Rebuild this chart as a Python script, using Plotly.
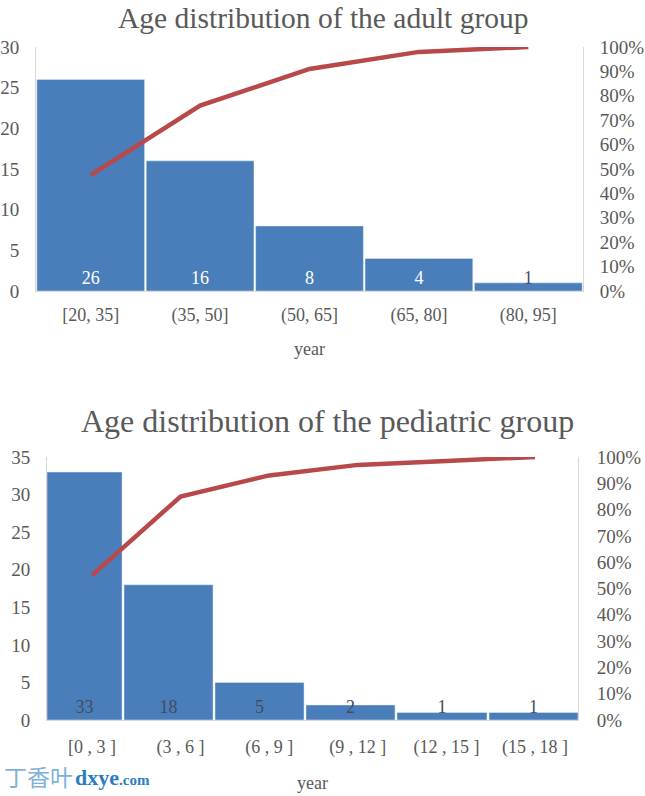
import plotly.graph_objects as go

W = 645
H = 796

adult_bins = ['[20, 35]', '(35, 50]', '(50, 65]', '(65, 80]', '(80, 95]']
adult_counts = [26, 16, 8, 4, 1]
adult_cum = [0.475, 0.76, 0.91, 0.98, 1.0]

ped_bins = ['[0 , 3 ]', '(3 , 6 ]', '(6 , 9 ]', '(9 , 12 ]', '(12 , 15 ]', '(15 , 18 ]']
ped_counts = [33, 18, 5, 2, 1, 1]
ped_cum = [0.55, 0.85, 0.93, 0.97, 0.985, 1.0]

# the lower chart has its bars drawn off the category centres in the original
ped_offset = [-0.508, -0.639, -0.612, -0.585, -0.558, -0.519]
ped_width = [0.847, 1.005, 1.005, 1.005, 1.016, 1.004]

pct_ticks = [i / 10 for i in range(11)]

BLUE = '#4a7ebb'
RED = '#b8494a'
GREY = '#595959'
AXIS = '#d9d9d9'
DARK = '#424c5c'
SERIF = 'Liberation Serif'


def px_x(x):
    return x / W


def px_y(y):
    return 1 - y / H


fig = go.Figure()

# upper chart
fig.add_trace(go.Bar(x=adult_bins, y=adult_counts, text=adult_counts, marker_color=BLUE,
                     textposition='inside', insidetextanchor='start', constraintext='none',
                     textangle=0, textfont=dict(size=18, family=SERIF,
                                                color=['white', 'white', 'white', 'white', DARK]),
                     xaxis='x', yaxis='y'))
fig.add_trace(go.Scatter(x=adult_bins, y=adult_cum, mode='lines', line=dict(color=RED, width=4.5),
                         xaxis='x', yaxis='y2'))

# lower chart
fig.add_trace(go.Bar(x=ped_bins, y=ped_counts, text=ped_counts, marker_color=BLUE,
                     offset=ped_offset, width=ped_width,
                     textposition='inside', insidetextanchor='start', constraintext='none',
                     textangle=0, textfont=dict(size=18, family=SERIF, color=DARK),
                     xaxis='x3', yaxis='y3'))
fig.add_trace(go.Scatter(x=ped_bins, y=ped_cum, mode='lines', line=dict(color=RED, width=4.5),
                         xaxis='x3', yaxis='y4'))

fig.update_layout(
    width=W, height=H, margin=dict(l=0, r=0, t=0, b=0), showlegend=False,
    paper_bgcolor='white', plot_bgcolor='white', bargap=0.015,
    font=dict(family=SERIF, size=19, color=GREY),
    xaxis=dict(domain=[px_x(36), px_x(583)], anchor='y', showgrid=False, linecolor=AXIS,
               ticks='', ticklabelstandoff=7, range=[-0.5, 4.5], automargin=False,
               tickfont=dict(size=18),
               title=dict(text='year', standoff=17, font=dict(size=18))),
    yaxis=dict(domain=[px_y(291), px_y(47)], anchor='x', range=[0, 30], dtick=5, showgrid=False,
               zeroline=False, showline=True, linecolor=AXIS, ticks='', ticklabelstandoff=12,
               automargin=False),
    yaxis2=dict(domain=[px_y(291), px_y(47)], anchor='x', overlaying='y', side='right',
                range=[0, 1], tickvals=pct_ticks, tickformat='.0%', showgrid=False, zeroline=False,
                showline=True, linecolor=AXIS, ticks='', ticklabelstandoff=12, automargin=False),
    xaxis3=dict(domain=[px_x(47), px_x(578)], anchor='y3', showgrid=False, linecolor=AXIS,
                ticks='', ticklabelstandoff=10, range=[-0.508, 5.485], automargin=False,
                tickfont=dict(size=18),
                title=dict(text='year', standoff=19, font=dict(size=18))),
    yaxis3=dict(domain=[px_y(720), px_y(457)], anchor='x3', range=[0, 35], dtick=5, showgrid=False,
                zeroline=False, showline=True, linecolor=AXIS, ticks='', ticklabelstandoff=12,
                automargin=False),
    yaxis4=dict(domain=[px_y(720), px_y(457)], anchor='x3', overlaying='y3', side='right',
                range=[0, 1], tickvals=pct_ticks, tickformat='.0%', showgrid=False, zeroline=False,
                showline=True, linecolor=AXIS, ticks='', ticklabelstandoff=14, automargin=False),
)

fig.add_annotation(text='Age distribution of the adult group', x=px_x(323), y=px_y(18),
                   xref='paper', yref='paper', xanchor='center', yanchor='middle', showarrow=False,
                   font=dict(size=29.5, color=GREY))
fig.add_annotation(text='Age distribution of the pediatric group', x=px_x(327), y=px_y(421),
                   xref='paper', yref='paper', xanchor='center', yanchor='middle', showarrow=False,
                   font=dict(size=32, color=GREY))

# watermark
fig.add_annotation(text='丁香叶', x=px_x(2), y=px_y(776), xref='paper', yref='paper', xanchor='left',
                   yanchor='middle', showarrow=False,
                   font=dict(size=23, family='Noto Sans CJK SC', color='#7fb2d9'))
fig.add_annotation(text='<b>dxye<span style="font-size:15px">.com</span></b>', x=px_x(73), y=px_y(777),
                   xref='paper', yref='paper', xanchor='left', yanchor='middle', showarrow=False,
                   font=dict(size=22, family=SERIF, color='#2b7cc0'))

# page margin would shift the whole figure by 8px
fig.write_html("out.html", post_script="document.body.style.margin='0';",
               config=dict(displayModeBar=False))
